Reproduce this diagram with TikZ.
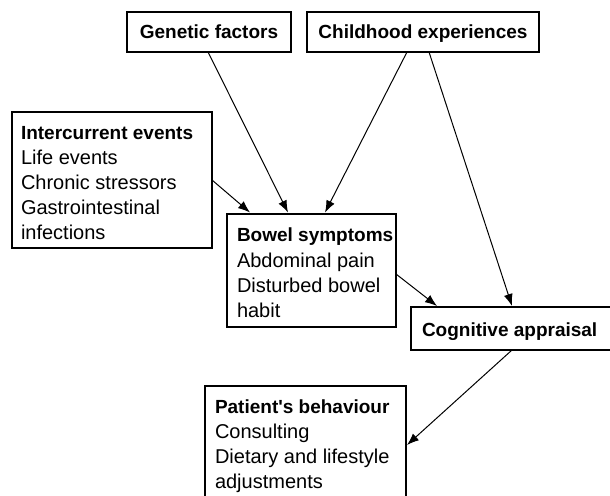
\documentclass[tikz,border=0pt]{standalone}
\usepackage{fontspec}
\setmainfont{Liberation Sans}
\usetikzlibrary{arrows.meta}
\newcommand{\hdfont}{\fontsize{19}{25.2}\selectfont\bfseries}
\newcommand{\straightquote}{\XeTeXglyph\XeTeXcharglyph"0027\relax}
\begin{document}
\begin{tikzpicture}[x=1pt,y=-1pt,
  box/.style={draw=black, line width=2pt, rectangle, inner sep=0pt, outer sep=0pt, anchor=north west, fill=white},
  txt/.style={inner sep=0pt, outer sep=0pt, align=left, font=\fontsize{20}{25.2}\selectfont, anchor=north west},
  ttl/.style={inner sep=0pt, outer sep=0pt, font=\hdfont, anchor=base},
  conn/.style={draw=black, line width=1pt, -{Latex[length=12pt,width=9pt]}}]
\useasboundingbox (0,0) rectangle (610,495);
\clip (0,0) rectangle (610,495);
\fill[white] (0,0) rectangle (610,495);
% boxes
\node[box, minimum width=164pt, minimum height=40pt] (gen) at (127,12) {};
\node[box, minimum width=232pt, minimum height=40pt] (child) at (307,12) {};
\node[box, minimum width=200pt, minimum height=136pt] (inter) at (12,112) {};
\node[box, minimum width=169pt, minimum height=113pt] (bowel) at (227,214) {};
\node[box, minimum width=215pt, minimum height=43pt] (cog) at (411,307) {};
\node[box, minimum width=201pt, minimum height=125pt] (pat) at (205,386) {};
% texts
\node[ttl] (gentxt) at (209,38) {Genetic factors};
\node[ttl] (childtxt) at (423,38) {Childhood experiences};
\node[txt] (intertxt) at (21,121.5) {\strut{\hdfont Intercurrent events}\\Life events\\Chronic stressors\\Gastrointestinal\\infections};
\node[txt] (boweltxt) at (237,224.3) {\strut{\hdfont Bowel symptoms}\\Abdominal pain\\Disturbed bowel\\habit};
\node[txt] (cogtxt) at (422,318.5) {\strut{\hdfont Cognitive appraisal}};
\node[txt] (pattxt) at (215,395.5) {\strut{\hdfont Patient\straightquote s behaviour}\\Consulting\\Dietary and lifestyle\\adjustments};
% connectors
\draw[conn] ([xshift=81pt]gen.south west) -- ([xshift=61pt,yshift=1.5pt]bowel.north west);
\draw[conn] ([yshift=-68pt]inter.north east) -- ([xshift=23pt,yshift=1.5pt]bowel.north west);
\draw[conn] ([xshift=100pt]child.south west) -- ([xshift=98pt,yshift=1.5pt]bowel.north west);
\draw[conn] ([xshift=122pt]child.south west) -- ([xshift=101pt,yshift=1pt]cog.north west);
\draw[conn] ([yshift=-60pt]bowel.north east) -- ([xshift=26pt,yshift=1pt]cog.north west);
\draw[conn] ([xshift=101pt]cog.south west) -- ([xshift=1pt,yshift=-59pt]pat.north east);
\end{tikzpicture}
\end{document}
